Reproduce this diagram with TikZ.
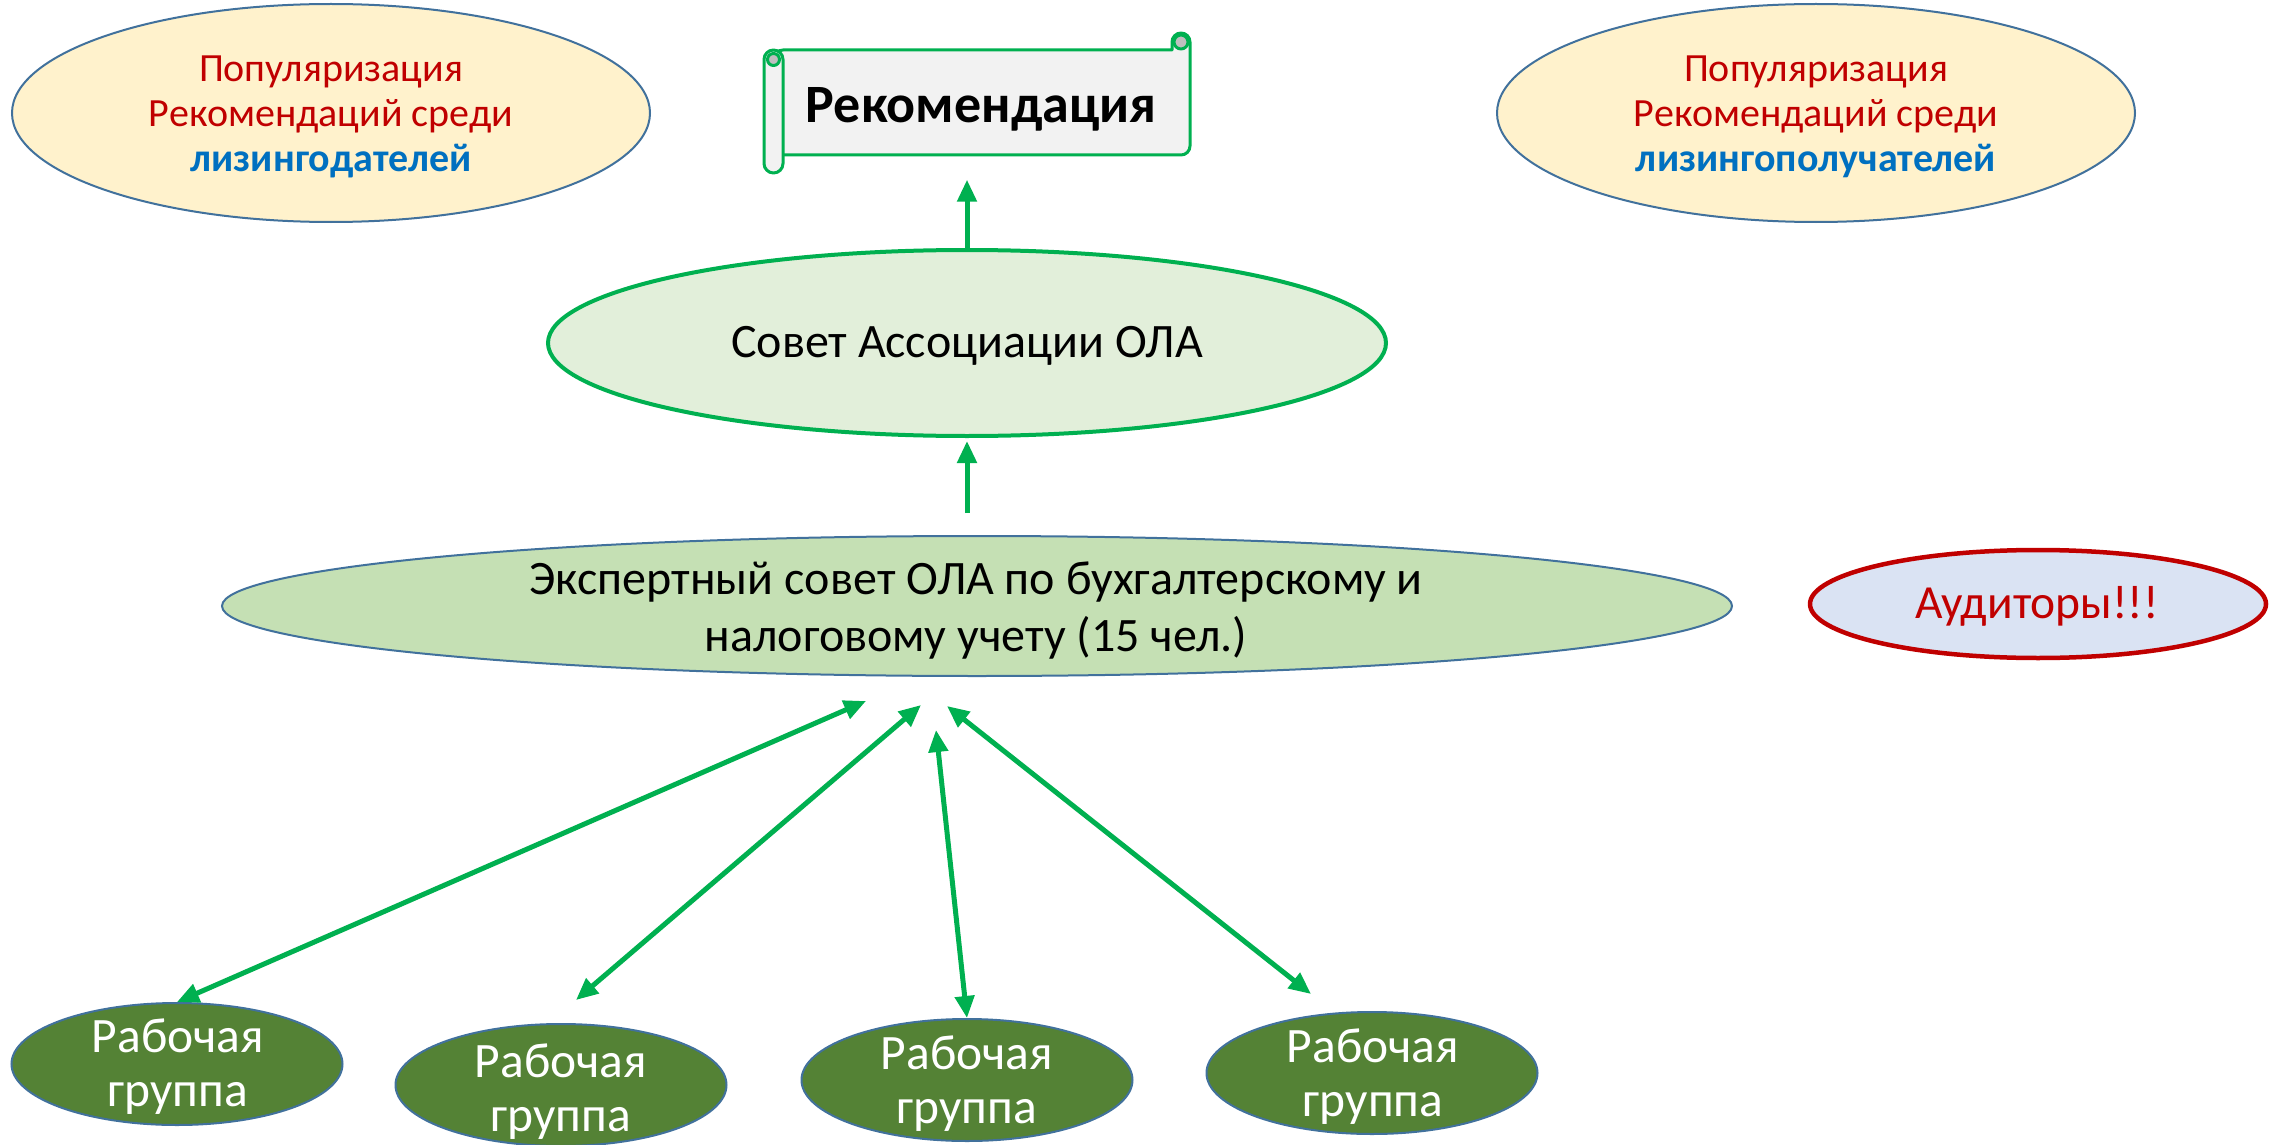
\documentclass[tikz,border=0pt]{standalone}
\usepackage{fontspec}
\setmainfont{Carlito}
\usetikzlibrary{shapes.geometric,arrows.meta,calc}
\definecolor{yfill}{HTML}{FFF2CC}
\definecolor{bgray}{HTML}{41719C}
\definecolor{dred}{HTML}{C00000}
\definecolor{tblue}{HTML}{0070C0}
\definecolor{agreen}{HTML}{00B050}
\definecolor{lgreen}{HTML}{E2EFDA}
\definecolor{mgreen}{HTML}{C5E0B4}
\definecolor{lblue}{HTML}{DAE3F3}
\definecolor{wgfill}{HTML}{548235}
\definecolor{sfill}{HTML}{F2F2F2}
\definecolor{curl}{HTML}{BFBFBF}
\tikzset{
  ell/.style={ellipse, inner sep=0pt, line width=2pt},
  popell/.style={ell, draw=bgray, fill=yfill, minimum width=638, minimum height=218},
  poptext/.style={align=center, inner sep=0pt, text=dred, font=\fontsize{40}{45}\selectfont},
  wgell/.style={ell, draw=bgray, fill=wgfill, minimum width=331, minimum height=122},
  wgtext/.style={align=center, inner sep=0pt, text=white, font=\fontsize{49.5}{54}\selectfont},
  arr/.style={draw=agreen, line width=5pt, -{Triangle[length=22pt,width=19pt]}},
  darr/.style={draw=agreen, line width=5pt, {Triangle[length=22pt,width=19pt]}-{Triangle[length=22pt,width=19pt]}},
  scrollline/.style={draw=agreen, line width=3pt, line join=round},
}
\begin{document}
\begin{tikzpicture}[x=1pt,y=-1pt]
\useasboundingbox (0,0) rectangle (2271,1145);

% top ellipses
\node[popell] (popL) at (331,113) {};
\node[poptext] (popLt) at (331,117) {Популяризация\\Рекомендаций среди\\\textcolor{tblue}{\bfseries лизингодателей}};
\node[popell] (popR) at (1816,113) {};
\node[poptext] (popRt) at (1816,117) {Популяризация\\Рекомендаций среди\\\textcolor{tblue}{\bfseries лизингополучателей}};

% scroll
\path[scrollline, fill=sfill] (774,50) -- (1172,50) -- (1172,42) [rounded corners=9] -- (1172,33) -- (1190,33) -- (1190,155) -- (774,155) -- cycle;
\draw[scrollline, fill=curl] (1181,42) circle (7);
\draw[scrollline, fill=sfill, rounded corners=9.5] (764,50) rectangle (783,173);
\draw[scrollline, fill=curl] (773.5,59.5) circle (6);
\node[inner sep=0pt, minimum width=407, minimum height=105, font=\fontsize{54}{60}\selectfont\bfseries] (rec) at (981,109) {Рекомендация};

% council
\node[ell, draw=agreen, line width=4pt, fill=lgreen, minimum width=838, minimum height=186] (sovet) at (967,343) {};
\node[inner sep=0pt, font=\fontsize{48}{54}\selectfont] (sovett) at (967,346) {Совет Ассоциации ОЛА};

% expert council
\node[ell, draw=bgray, fill=mgreen, minimum width=1510, minimum height=140] (eks) at (977,606) {};
\node[align=center, inner sep=0pt, font=\fontsize{48}{57}\selectfont] (ekst) at (976,611) {Экспертный совет ОЛА по бухгалтерскому и\\налоговому учету (15 чел.)};

% auditors
\node[ell, draw=dred, line width=4.5pt, fill=lblue, minimum width=456, minimum height=108] (aud) at (2038,604) {};
\node[inner sep=0pt, text=dred, font=\fontsize{47.5}{52}\selectfont] (audt) at (2037,606) {Аудиторы!!!};

% working groups
\node[wgell] (wg1) at (177,1064) {};
\node[wgtext] (wg1t) at (178,1067) {Рабочая\\группа};
\node[wgell] (wg2) at (561,1085) {};
\node[wgtext] (wg2t) at (561,1092) {Рабочая\\группа};
\node[wgell] (wg3) at (967,1080) {};
\node[wgtext] (wg3t) at (967,1084) {Рабочая\\группа};
\node[wgell] (wg4) at (1372,1073) {};
\node[wgtext] (wg4t) at (1373,1077) {Рабочая\\группа};

% arrows up
\draw[arr] (sovet.north) -- ($(rec.south -| sovet.north)+(0,18)$);
\draw[arr, shorten >=3pt] ($(eks.north -| sovet.south)+(0,-22)$) -- (sovet.south);

% double arrows
\draw[darr] ($(eks.south)+(-111,24)$) -- (wg1.north);
\draw[darr] ($(eks.south)+(-56,28)$) -- ($(wg2.north)+(15,-23)$);
\draw[darr] ($(eks.south)+(-41,53)$) -- (wg3.north);
\draw[darr] ($(eks.south)+(-30,29)$) -- ($(wg4.north)+(-61,-17)$);
\end{tikzpicture}
\end{document}
